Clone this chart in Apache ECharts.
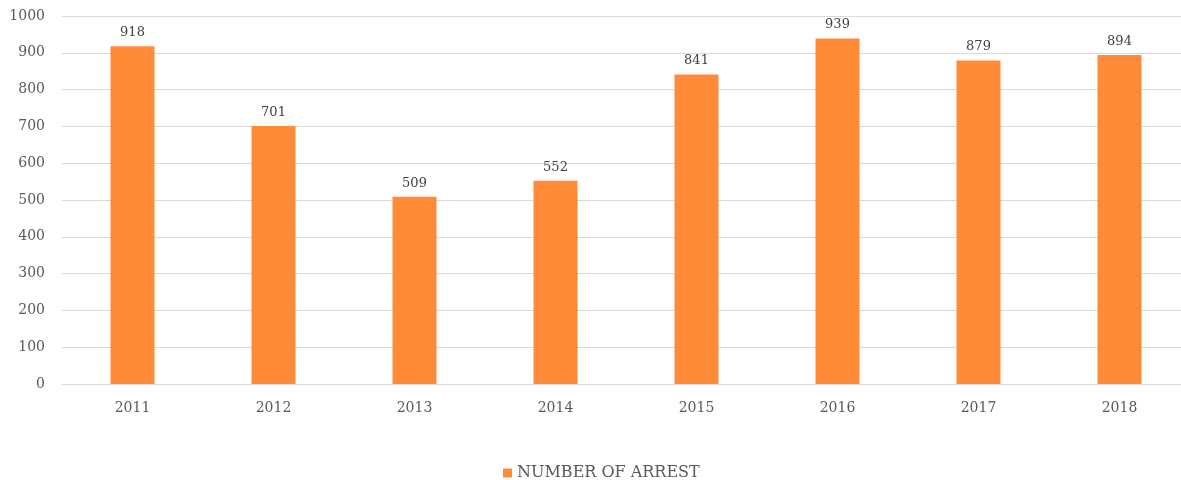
<!DOCTYPE html>
<html><head><meta charset="utf-8">
<script src="https://cdn.jsdelivr.net/npm/echarts@6/dist/echarts.min.js"></script>
<style>html,body{margin:0;padding:0;background:#fff}#c{width:1181px;height:480px}</style>
</head><body><div id="c"></div>
<script>
const categories = ['2011','2012','2013','2014','2015','2016','2017','2018'];
const arrests = [918, 701, 509, 552, 841, 939, 879, 894];
const seriesName = 'NUMBER OF ARREST';
const font = "'DejaVu Serif', 'Liberation Serif', serif";
const chart = echarts.init(document.getElementById('c'));
chart.setOption({
  animation: false,
  textStyle: {fontFamily: font},
  grid: {left: 62, width: 1128, top: 16, height: 368, containLabel: false, outerBoundsMode: 'none'},
  legend: {
    top: 465, left: 503, itemWidth: 9, itemHeight: 9, itemGap: 6, padding: 0,
    icon: 'rect',
    textStyle: {fontFamily: font, fontSize: 16, color: '#595959'},
    data: [seriesName]
  },
  xAxis: {
    type: 'category', data: categories,
    axisLine: {lineStyle: {color: '#d9d9d9', width: 1}},
    axisTick: {show: false},
    axisLabel: {fontFamily: font, fontSize: 14, color: '#595959', margin: 17}
  },
  yAxis: {
    type: 'value', min: 0, max: 1000, interval: 100,
    axisLine: {show: false}, axisTick: {show: false},
    splitLine: {lineStyle: {color: '#d9d9d9', width: 1}},
    axisLabel: {fontFamily: font, fontSize: 14, color: '#595959', margin: 17, formatter: v => String(v)}
  },
  series: [{
    name: seriesName, type: 'bar', data: arrests, barWidth: 44,
    itemStyle: {color: '#FF8A38'},
    label: {show: true, position: 'top', distance: 7, fontFamily: font, fontSize: 13, color: '#404040'}
  }]
});
</script></body></html>
